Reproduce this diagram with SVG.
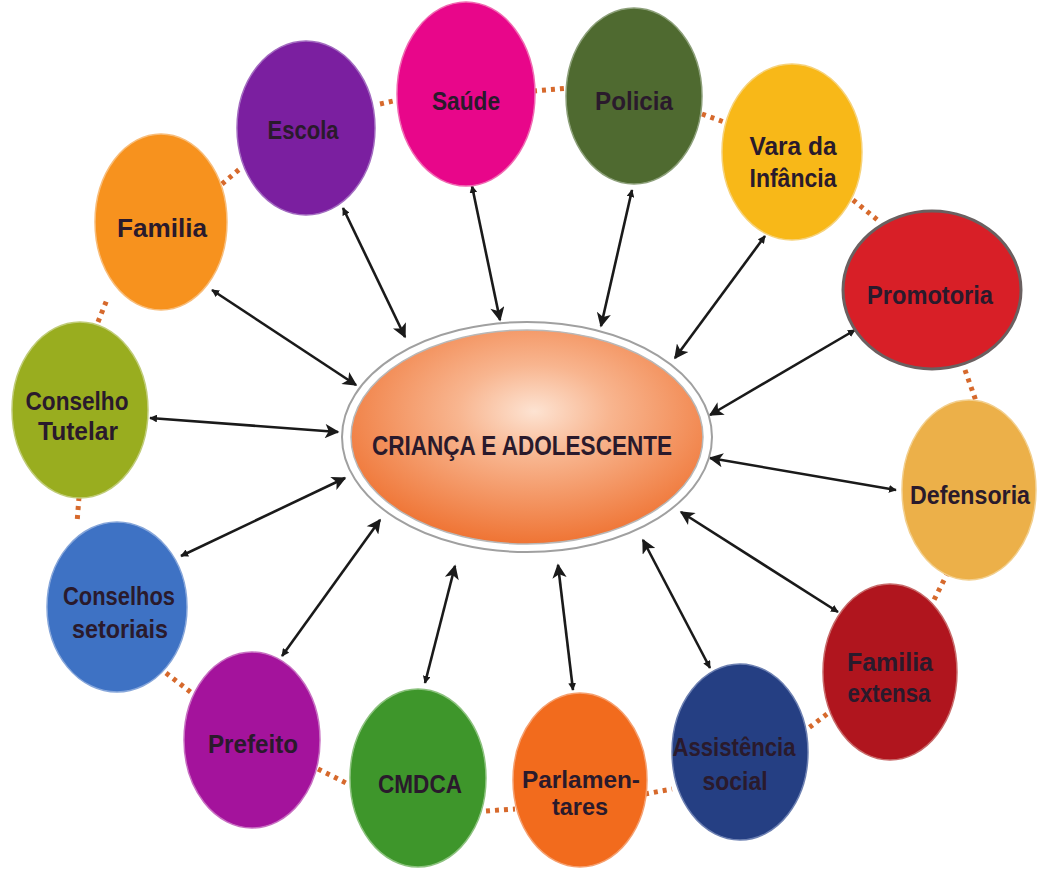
<svg xmlns="http://www.w3.org/2000/svg" width="1038" height="870" viewBox="0 0 1038 870">
<defs>
<radialGradient id="cg" cx="0.52" cy="0.38" r="0.62">
<stop offset="0" stop-color="#fde3d2"/>
<stop offset="0.35" stop-color="#f8b58f"/>
<stop offset="1" stop-color="#ef7434"/>
</radialGradient>
<marker id="big" viewBox="0 0 10 10" refX="9" refY="5" markerWidth="7" markerHeight="5.5" markerUnits="strokeWidth" orient="auto">
<path d="M0,0 L10,5 L0,10 L2.5,5 Z" fill="#1a1a1a"/>
</marker>
<marker id="small" viewBox="0 0 10 10" refX="1" refY="5" markerWidth="3" markerHeight="3" markerUnits="strokeWidth" orient="auto">
<path d="M10,0 L0,5 L10,10 Z" fill="#1a1a1a"/>
</marker>
</defs>
<style>
.n text{font-family:"Liberation Sans Narrow","Liberation Sans",Arial,sans-serif;font-weight:bold;font-size:25px;fill:#2a1a2c;text-anchor:middle}
.arr line{stroke:#1a1a1a;stroke-width:2.6;marker-end:url(#big);marker-start:url(#small)}
.dots line{stroke:#d6692c;stroke-width:5;stroke-dasharray:4 5;stroke-linecap:butt}
</style>
<rect width="1038" height="870" fill="#ffffff"/>

<g id="dotted" class="dots">
<line x1="222" y1="184" x2="242" y2="167"/>
<line x1="380" y1="104" x2="398" y2="100"/>
<line x1="533" y1="91" x2="569" y2="88"/>
<line x1="702" y1="114" x2="724" y2="122"/>
<line x1="853" y1="200" x2="880" y2="222"/>
<line x1="965" y1="370" x2="976" y2="401"/>
<line x1="948" y1="572" x2="932" y2="604"/>
<line x1="827" y1="714" x2="806" y2="730"/>
<line x1="645" y1="794" x2="672" y2="789"/>
<line x1="486" y1="811" x2="515" y2="809"/>
<line x1="318" y1="769" x2="348" y2="784"/>
<line x1="166" y1="673" x2="193" y2="694"/>
<line x1="79" y1="497" x2="77" y2="523"/>
<line x1="98" y1="322" x2="108" y2="297"/>
</g>

<g id="connectors" class="arr">
<line x1="343" y1="208" x2="405" y2="337"/>
<line x1="472" y1="186" x2="500" y2="320"/>
<line x1="632" y1="190" x2="601" y2="326"/>
<line x1="765" y1="236" x2="675" y2="358"/>
<line x1="855" y1="330" x2="710" y2="415"/>
<line x1="896" y1="490" x2="710" y2="458"/>
<line x1="838" y1="612" x2="681" y2="512"/>
<line x1="710" y1="668" x2="643" y2="540"/>
<line x1="573" y1="690" x2="558" y2="565"/>
<line x1="425" y1="683" x2="455" y2="566"/>
<line x1="282" y1="656" x2="380" y2="520"/>
<line x1="181" y1="556" x2="345" y2="478"/>
<line x1="150" y1="418" x2="338" y2="432"/>
<line x1="212" y1="290" x2="356" y2="385"/>
</g>

<g id="center" class="n">
<ellipse cx="527" cy="437" rx="185" ry="115" fill="#ffffff" stroke="#a0a0a0" stroke-width="2"/>
<ellipse cx="527" cy="437" rx="176" ry="107" fill="url(#cg)" stroke="#b8b8b8" stroke-width="1.5"/>
<text x="522" y="455" textLength="300" lengthAdjust="spacingAndGlyphs" style="font-size:27px">CRIANÇA E ADOLESCENTE</text>
</g>

<g id="escola" class="n">
<ellipse cx="306" cy="128" rx="69" ry="87" fill="#7b1fa0" stroke="#a36bc0" stroke-width="1.5"/>
<text x="303" y="139" textLength="71" lengthAdjust="spacingAndGlyphs">Escola</text>
</g>
<g id="saude" class="n">
<ellipse cx="466" cy="94" rx="69" ry="92" fill="#e8068a" stroke="#f06ab2" stroke-width="1.5"/>
<text x="466" y="110" textLength="68" lengthAdjust="spacingAndGlyphs">Saúde</text>
</g>
<g id="policia" class="n">
<ellipse cx="634" cy="96" rx="68" ry="88" fill="#4f6a30" stroke="#8da07a" stroke-width="1.5"/>
<text x="634" y="110" textLength="78" lengthAdjust="spacingAndGlyphs">Policia</text>
</g>
<g id="vara" class="n">
<ellipse cx="792" cy="152" rx="70" ry="88" fill="#f8b818" stroke="#f6d27a" stroke-width="1.5"/>
<text x="793" y="155" textLength="87" lengthAdjust="spacingAndGlyphs">Vara da</text>
<text x="793" y="187" textLength="87" lengthAdjust="spacingAndGlyphs">Infância</text>
</g>
<g id="promotoria" class="n">
<ellipse cx="932" cy="290" rx="89" ry="79" fill="#d81f27" stroke="#6a6060" stroke-width="3"/>
<text x="930" y="304" textLength="126" lengthAdjust="spacingAndGlyphs">Promotoria</text>
</g>
<g id="defensoria" class="n">
<ellipse cx="969" cy="490" rx="67" ry="90" fill="#ecb049" stroke="#f2cf8e" stroke-width="1.5"/>
<text x="970" y="504" textLength="120" lengthAdjust="spacingAndGlyphs">Defensoria</text>
</g>
<g id="familia-extensa" class="n">
<ellipse cx="890" cy="672" rx="67" ry="88" fill="#b0151e" stroke="#c86a6a" stroke-width="1.5"/>
<text x="890" y="671" textLength="86" lengthAdjust="spacingAndGlyphs">Familia</text>
<text x="889" y="702" textLength="83" lengthAdjust="spacingAndGlyphs">extensa</text>
</g>
<g id="assistencia" class="n">
<ellipse cx="740" cy="752" rx="68" ry="88" fill="#253f83" stroke="#6d80b2" stroke-width="1.5"/>
<text x="734" y="756" textLength="123" lengthAdjust="spacingAndGlyphs">Assistência</text>
<text x="735" y="790" textLength="65" lengthAdjust="spacingAndGlyphs">social</text>
</g>
<g id="parlamentares" class="n">
<ellipse cx="580" cy="780" rx="67" ry="87" fill="#f26b1d" stroke="#f5a070" stroke-width="1.5"/>
<text x="581" y="788" textLength="118" lengthAdjust="spacingAndGlyphs" style="font-size:23px">Parlamen-</text>
<text x="580" y="815" textLength="56" lengthAdjust="spacingAndGlyphs" style="font-size:23px">tares</text>
</g>
<g id="cmdca" class="n">
<ellipse cx="418" cy="778" rx="68" ry="89" fill="#3e962b" stroke="#8cc27e" stroke-width="1.5"/>
<text x="420" y="793" textLength="84" lengthAdjust="spacingAndGlyphs">CMDCA</text>
</g>
<g id="prefeito" class="n">
<ellipse cx="252" cy="740" rx="68" ry="88" fill="#a4139c" stroke="#c870c2" stroke-width="1.5"/>
<text x="253" y="753" textLength="90" lengthAdjust="spacingAndGlyphs">Prefeito</text>
</g>
<g id="conselhos-setoriais" class="n">
<ellipse cx="117" cy="607" rx="70" ry="85" fill="#3e72c4" stroke="#86a6da" stroke-width="1.5"/>
<text x="119" y="605" textLength="112" lengthAdjust="spacingAndGlyphs">Conselhos</text>
<text x="120" y="638" textLength="96" lengthAdjust="spacingAndGlyphs">setoriais</text>
</g>
<g id="conselho-tutelar" class="n">
<ellipse cx="80" cy="410" rx="68" ry="88" fill="#99ad1f" stroke="#c0cc78" stroke-width="1.5"/>
<text x="77" y="410" textLength="103" lengthAdjust="spacingAndGlyphs">Conselho</text>
<text x="78" y="440" textLength="80" lengthAdjust="spacingAndGlyphs">Tutelar</text>
</g>
<g id="familia" class="n">
<ellipse cx="161" cy="222" rx="66" ry="88" fill="#f7921e" stroke="#f8bd7a" stroke-width="1.5"/>
<text x="162" y="237" textLength="90" lengthAdjust="spacingAndGlyphs">Familia</text>
</g>
</svg>
